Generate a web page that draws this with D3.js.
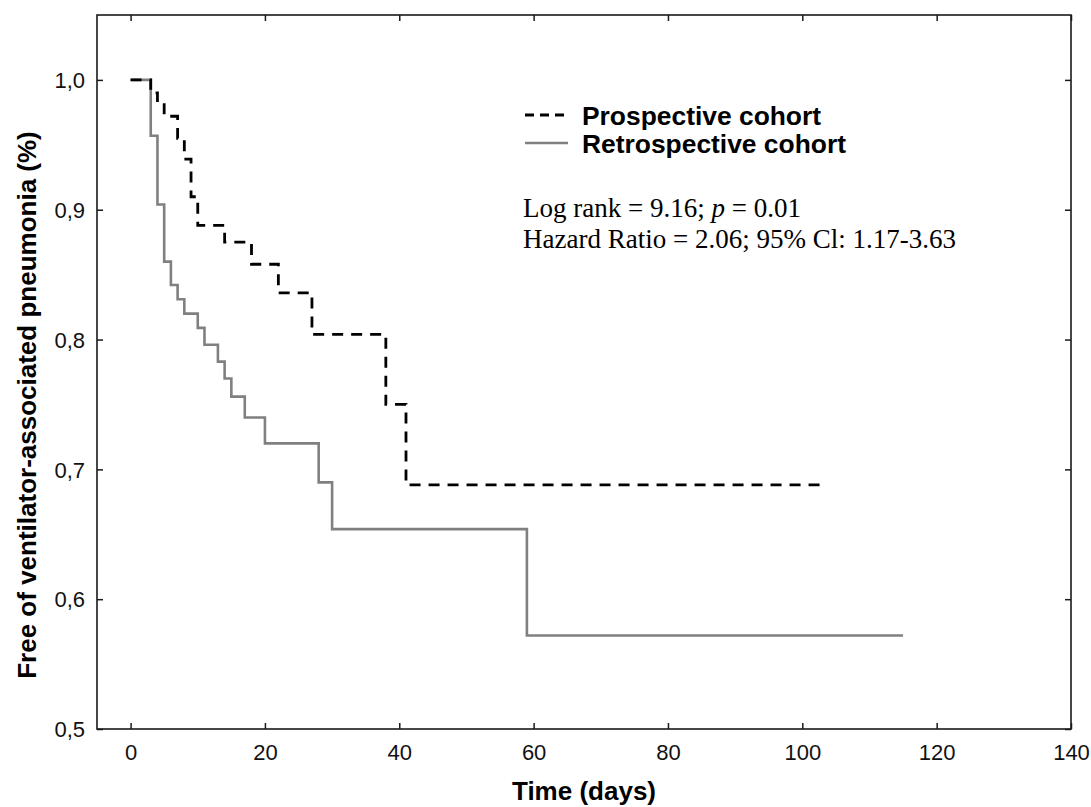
<!DOCTYPE html>
<html>
<head>
<meta charset="utf-8">
<script src="https://cdn.jsdelivr.net/npm/d3@7"></script>
<style>
  html, body { margin: 0; padding: 0; background: #fff; }
  svg { display: block; }
</style>
</head>
<body>
<script>
// ---- data ----
const xTicks = [0, 20, 40, 60, 80, 100, 120, 140];
const yTicks = [0.5, 0.6, 0.7, 0.8, 0.9, 1.0];
const yTickLabels = ["0,5", "0,6", "0,7", "0,8", "0,9", "1,0"];

const prospTime = [0, 3, 4, 5, 7, 8, 9, 10, 14, 18, 22, 27, 38, 41, 103];
const prospSurv = [1.0, 0.99, 0.981, 0.972, 0.955, 0.939, 0.91, 0.888, 0.875, 0.858, 0.836, 0.804, 0.75, 0.688, 0.688];

const retroTime = [0, 3, 4, 5, 6, 7, 8, 10, 11, 13, 14, 15, 17, 20, 28, 30, 59, 115];
const retroSurv = [1.0, 0.957, 0.904, 0.860, 0.842, 0.831, 0.820, 0.809, 0.796, 0.783, 0.770, 0.756, 0.740, 0.720, 0.690, 0.654, 0.572, 0.572];

const seriesNames = ["Prospective cohort", "Retrospective cohort"];
const xTitle = "Time (days)";
const yTitle = "Free of ventilator-associated pneumonia (%)";

// ---- layout ----
const W = 1091, H = 807;
const L = 97, R = 1071, T = 15, B = 729;

const svg = d3.select("body").append("svg").attr("width", W).attr("height", H);

const x = d3.scaleLinear().domain([-5, 140]).range([L, R]);
const y = d3.scaleLinear().domain([0.5, 1.05]).range([B, T]);

const axisColor = "#1a1a1a";
const sans = "Arial, 'Liberation Sans', sans-serif";

// axes with inward ticks on all four sides
const gB = svg.append("g").attr("transform", `translate(0,${B})`)
  .call(d3.axisBottom(x).tickValues(xTicks).tickSizeInner(-6).tickSizeOuter(0).tickPadding(15).tickFormat(d3.format("d")));
const gT = svg.append("g").attr("transform", `translate(0,${T})`)
  .call(d3.axisTop(x).tickValues(xTicks).tickSizeInner(-6).tickSizeOuter(0).tickFormat(""));
const gL = svg.append("g").attr("transform", `translate(${L},0)`)
  .call(d3.axisLeft(y).tickValues(yTicks).tickSizeInner(-6).tickSizeOuter(0).tickPadding(12).tickFormat((d, i) => yTickLabels[i]));
const gR = svg.append("g").attr("transform", `translate(${R},0)`)
  .call(d3.axisRight(y).tickValues(yTicks).tickSizeInner(-6).tickSizeOuter(0).tickFormat(""));

[gB, gT, gL, gR].forEach(g => {
  g.select(".domain").remove();
  g.selectAll(".tick line").attr("stroke", axisColor).attr("stroke-width", 1.5);
  g.selectAll(".tick text").attr("fill", "#111").style("font-family", sans).style("font-size", "22px");
});
gL.selectAll(".tick text").attr("dy", "0.35em");

// frame
svg.append("rect")
  .attr("x", L).attr("y", T).attr("width", R - L).attr("height", B - T)
  .attr("fill", "none").attr("stroke", axisColor).attr("stroke-width", 1.6);

// curves
const line = d3.line().x(d => x(d[0])).y(d => y(d[1])).curve(d3.curveStepAfter);
const prosp = prospTime.map((t, i) => [t, prospSurv[i]]);
const retro = retroTime.map((t, i) => [t, retroSurv[i]]);

svg.append("path").datum(retro).attr("d", line)
  .attr("fill", "none").attr("stroke", "#808080").attr("stroke-width", 2.6);
svg.append("path").datum(prosp).attr("d", line)
  .attr("fill", "none").attr("stroke", "#000").attr("stroke-width", 2.8)
  .attr("stroke-dasharray", "11,8");

// legend
const legX0 = 525, legX1 = 568, legTX = 582;
const legY = [115, 143];
svg.append("line").attr("x1", legX0).attr("x2", legX1).attr("y1", legY[0]).attr("y2", legY[0])
  .attr("stroke", "#000").attr("stroke-width", 2.8).attr("stroke-dasharray", "9,6");
svg.append("line").attr("x1", legX0).attr("x2", legX1).attr("y1", legY[1]).attr("y2", legY[1])
  .attr("stroke", "#808080").attr("stroke-width", 2.6);
seriesNames.forEach((n, i) => {
  svg.append("text").attr("x", legTX).attr("y", legY[i]).attr("dy", "0.36em")
    .style("font-family", sans).style("font-weight", "bold").style("font-size", "26.4px")
    .attr("fill", "#000").text(n);
});

// annotation
const serif = "'Times New Roman', 'Liberation Serif', serif";
const t1 = svg.append("text").attr("x", 523).attr("y", 217)
  .style("font-family", serif).style("font-size", "27px").attr("fill", "#000");
t1.append("tspan").text("Log rank = 9.16; ");
t1.append("tspan").style("font-style", "italic").text("p");
t1.append("tspan").text(" = 0.01");
svg.append("text").attr("x", 523).attr("y", 248)
  .style("font-family", serif).style("font-size", "27px").attr("fill", "#000")
  .text("Hazard Ratio = 2.06; 95% Cl: 1.17-3.63");

// axis titles
svg.append("text").attr("x", (L + R) / 2).attr("y", 800).attr("text-anchor", "middle")
  .style("font-family", sans).style("font-weight", "bold").style("font-size", "26px")
  .attr("fill", "#000").text(xTitle);
svg.append("text").attr("transform", `translate(36,405) rotate(-90)`).attr("text-anchor", "middle")
  .style("font-family", sans).style("font-weight", "bold").style("font-size", "26px")
  .attr("fill", "#000").text(yTitle);
</script>
</body>
</html>
